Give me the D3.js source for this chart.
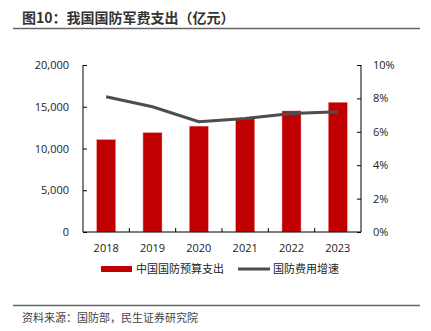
<!DOCTYPE html>
<html>
<meta charset="utf-8">
<head>
  <script src="https://d3js.org/d3.v7.min.js"></script>
  <style>
    body { margin: 0; background: #fff; }
    text { font-family: "Noto Sans CJK SC", "Noto Sans", sans-serif; }
  </style>
</head>
<body>
<script>
  var years = ["2018", "2019", "2020", "2021", "2022", "2023"];
  var budget = [11070, 11899, 12680, 13553, 14500, 15537];
  var growth = [8.1, 7.5, 6.6, 6.8, 7.1, 7.2];
  var leftTicks = [0, 5000, 10000, 15000, 20000];
  var rightTicks = [0, 2, 4, 6, 8, 10];

  var svg = d3.select("body").append("svg")
      .attr("width", 431)
      .attr("height", 331);

  // title + rules
  svg.append("text")
      .attr("x", 22).attr("y", 23)
      .attr("font-size", 14).attr("font-weight", "bold")
      .attr("fill", "#333")
      .text("图10：我国国防军费支出（亿元）");
  svg.append("line")
      .attr("x1", 13).attr("x2", 420).attr("y1", 28.5).attr("y2", 28.5)
      .attr("stroke", "#666").attr("stroke-width", 1.5);
  svg.append("line")
      .attr("x1", 13).attr("x2", 420).attr("y1", 305.5).attr("y2", 305.5)
      .attr("stroke", "#666").attr("stroke-width", 1.5);
  svg.append("text")
      .attr("x", 22).attr("y", 322)
      .attr("font-size", 11).attr("fill", "#444")
      .text("资料来源：国防部，民生证券研究院");

  var pLeft = 83, pRight = 361, pTop = 65, pBottom = 232;

  var x = d3.scaleBand().domain(years).range([pLeft, pRight]).paddingInner(0.59).paddingOuter(0.295);
  var xb = d3.scaleBand().domain(years).range([pLeft, pRight]);
  var yL = d3.scaleLinear().domain([0, 20000]).range([pBottom, pTop]);
  var yR = d3.scaleLinear().domain([0, 10]).range([pBottom, pTop]);

  // bars
  svg.append("g").selectAll("rect")
      .data(budget)
      .enter()
      .append("rect")
      .attr("x", function(d, i) { return x(years[i]); })
      .attr("y", function(d) { return yL(d); })
      .attr("width", x.bandwidth())
      .attr("height", function(d) { return pBottom - yL(d); })
      .attr("fill", "#C00000")
      .attr("stroke", "#f0a0a0")
      .attr("stroke-width", 0.5);

  // left axis
  var gl = svg.append("g").attr("transform", "translate(" + pLeft + ",0)")
      .call(d3.axisLeft(yL).tickValues(leftTicks).tickSize(-4).tickPadding(14)
        .tickFormat(d3.format(",")));
  // right axis
  var gr = svg.append("g").attr("transform", "translate(" + pRight + ",0)")
      .call(d3.axisRight(yR).tickValues(rightTicks).tickSize(-4).tickPadding(12)
        .tickFormat(function(d) { return d + "%"; }));
  // bottom axis
  var gb = svg.append("g").attr("transform", "translate(0," + pBottom + ")")
      .call(d3.axisBottom(xb).tickSize(0).tickPadding(12));
  gb.selectAll(".tick").each(function(d, i) {
    if (i > 0) {
      d3.select(this).append("line")
        .attr("x1", -xb.bandwidth() / 2).attr("x2", -xb.bandwidth() / 2)
        .attr("y1", 0).attr("y2", -4).attr("stroke", "#000");
    }
  });

  [gl, gr, gb].forEach(function(g) {
    g.select(".domain").attr("stroke", "#000");
    g.selectAll(".tick line").attr("stroke", "#000");
    g.selectAll("text").attr("font-size", 11).attr("fill", "#222")
      .style("font-family", "'Open Sans', 'Noto Sans', sans-serif");
  });
  gl.select(".domain").attr("d", "M0," + pTop + "V" + pBottom);
  gr.select(".domain").attr("d", "M0," + pTop + "V" + pBottom);
  gb.select(".domain").attr("d", "M" + pLeft + ",0H" + pRight);

  // growth line
  var line = d3.line()
      .x(function(d, i) { return xb(years[i]) + xb.bandwidth() / 2; })
      .y(function(d) { return yR(d); });
  svg.append("path")
      .attr("d", line(growth))
      .attr("fill", "none")
      .attr("stroke", "#4d4d4d")
      .attr("stroke-width", 3);

  // legend
  var lg = svg.append("g");
  lg.append("rect").attr("x", 101).attr("y", 266).attr("width", 31).attr("height", 6).attr("fill", "#C00000");
  lg.append("text").attr("x", 136).attr("y", 273).attr("font-size", 11).attr("fill", "#222").text("中国国防预算支出");
  lg.append("line").attr("x1", 238).attr("x2", 270).attr("y1", 269).attr("y2", 269)
    .attr("stroke", "#4d4d4d").attr("stroke-width", 3);
  lg.append("text").attr("x", 273).attr("y", 273).attr("font-size", 11).attr("fill", "#222").text("国防费用增速");
</script>
</body>
</html>
